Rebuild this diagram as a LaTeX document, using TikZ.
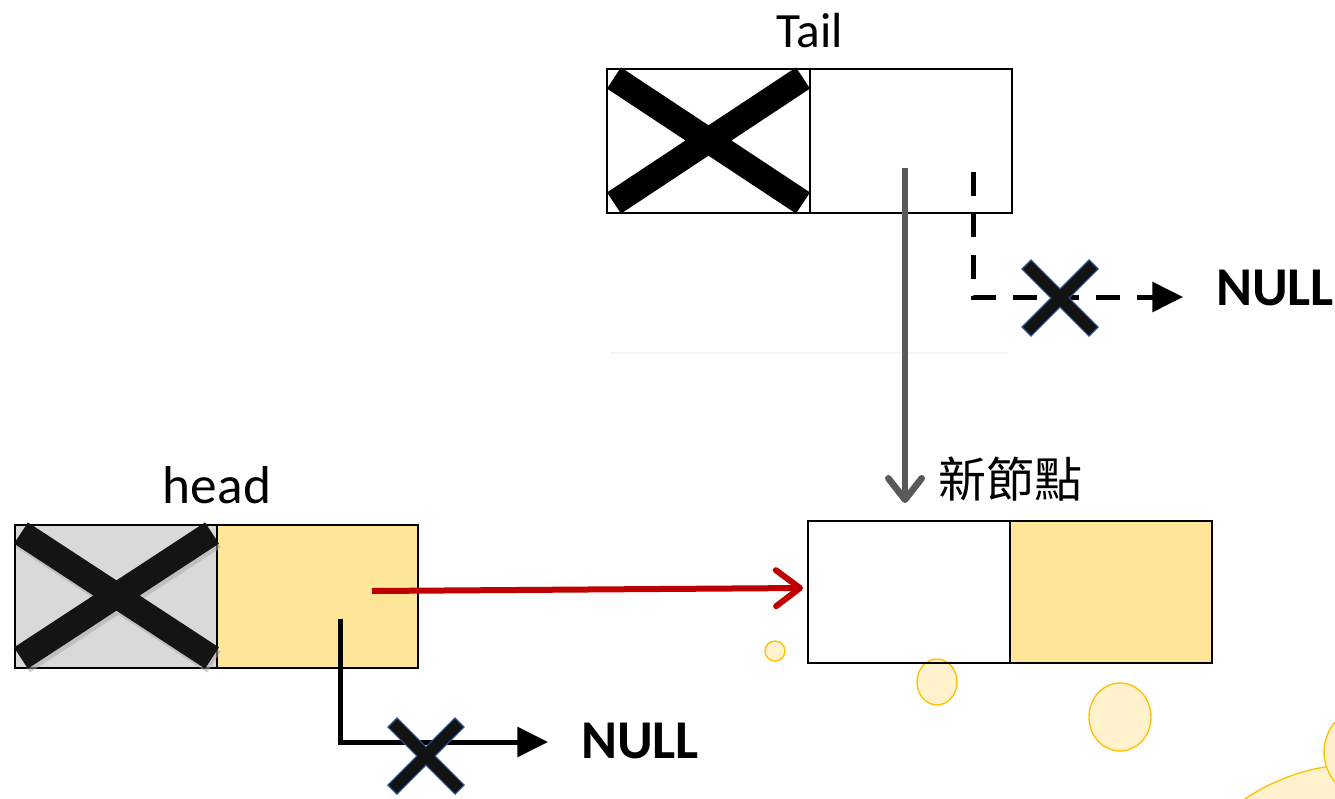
\documentclass[tikz,border=0pt]{standalone}
\usepackage{fontspec}
\setmainfont{Carlito}
\newfontfamily\cjk{Noto Sans CJK TC}
\usetikzlibrary{arrows.meta}
\definecolor{boxyellow}{HTML}{FFE699}
\definecolor{boxgray}{HTML}{D9D9D9}
\definecolor{arrgray}{HTML}{595959}
\definecolor{redarr}{HTML}{C00000}
\definecolor{bubfill}{HTML}{FFF2CC}
\definecolor{bubline}{HTML}{FFC000}
\definecolor{xblue}{HTML}{2F5597}
\begin{document}
\begin{tikzpicture}[x=0.75pt,y=-0.75pt,
  cell/.style={draw=black, line width=1.5pt, inner sep=0pt, outer sep=0pt},
  label/.style={inner sep=0pt, anchor=base, font=\fontsize{37}{42}\selectfont},
  nulltext/.style={inner sep=0pt, anchor=base, font=\fontsize{41}{46}\selectfont\bfseries},
  bigx/.style={line width=19pt, line cap=butt},
  ptr/.style={line width=3.75pt, -{Triangle[length=23pt,width=22pt]}},
  dashptr/.style={ptr, dash pattern=on 18pt off 13pt},
  bubble/.style={fill=bubfill, draw=bubline, line width=1pt},
  crossmark/.pic={
    \draw[xblue, line width=10.5pt, line cap=butt] (-34,-34) -- (34,34) (-34,34) -- (34,-34);
    \draw[black!93, line width=8.5pt, line cap=butt] (-33,-33) -- (33,33) (-33,33) -- (33,-33);
  }]
\useasboundingbox (0,0) rectangle (1335,799);

% background bubbles
\begin{scope}
\clip (0,0) rectangle (1335,799);
\draw[bubble] (775,651) circle[radius=10];
\draw[bubble] (937,682) ellipse[x radius=20, y radius=23];
\draw[bubble] (1120,717) ellipse[x radius=31, y radius=34];
\draw[bubble] (1360,971) circle[radius=207];
\draw[bubble] (1370,752) circle[radius=46];
\end{scope}

% faint shadow line under tail area
\draw[black!4, line width=1pt] (610,353) -- (1008,353);

% Tail node
\node[cell, minimum width=152.25pt, minimum height=108pt] (tailL) at (708.5,141) {};
\node[cell, minimum width=151.5pt, minimum height=108pt] (tailR) at (911,141) {};
\draw[bigx] (614,78) -- (803,203) (614,203) -- (803,78);
\node[label] (tailT) at (810,48) {Tail};

% head node
\node[cell, fill=boxgray, minimum width=151.5pt, minimum height=107.25pt] (headL) at (116,596.5) {};
\node[cell, fill=boxyellow, minimum width=150.75pt, minimum height=107.25pt] (headR) at (317.5,596.5) {};
\draw[bigx, black!35, opacity=0.5] (23,537) -- (214,662) (23,662) -- (214,537);
\draw[bigx, black!92] (21,533) -- (212,658) (21,658) -- (212,533);
\node[label, font=\fontsize{40}{46}\selectfont] (headT) at (217,503) {head};

% new node
\node[cell, line width=2pt, minimum width=151.5pt, minimum height=106.5pt] (newL) at (909,592) {};
\node[cell, line width=2pt, fill=boxyellow, minimum width=151.5pt, minimum height=106.5pt] (newR) at (1111,592) {};
\node[inner sep=0pt, anchor=base, font=\cjk\fontsize{36}{42}\selectfont] (newT) at (1010,497) {新節點};

% NULL labels
\node[nulltext] (null1) at (1275,305) {NULL};
\node[nulltext] (null2) at (640,758) {NULL};

% connectors
\coordinate (gstart) at (905,168);
\coordinate (gend) at (905,503);
\draw[arrgray, line width=5pt, -{Straight Barb[length=16pt,width=25pt,round]}] (gstart) -- (gend);

\coordinate (dstart) at (973,172);
\coordinate (dend) at (1183,297);
\draw[dashptr] (dstart) |- (dend);
\pic at (1060,298) {crossmark};

\coordinate (rstart) at (372,591);
\coordinate (rend) at (803,588);
\draw[redarr, line width=4.5pt, -{Straight Barb[length=18pt,width=27pt,round]}] (rstart) -- (rend);

\coordinate (hstart) at (340,619);
\coordinate (hend) at (548,742);
\draw[ptr] (hstart) |- (hend);
\pic at (426,756) {crossmark};
\end{tikzpicture}
\end{document}
